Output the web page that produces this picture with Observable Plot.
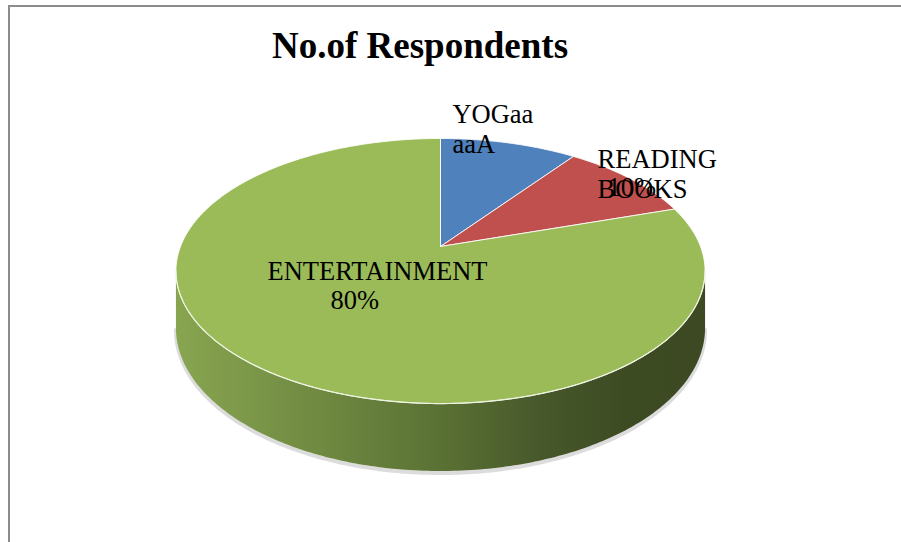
<!DOCTYPE html>
<html><head><meta charset="utf-8">
<script src="https://cdn.jsdelivr.net/npm/d3@7"></script>
<script src="https://cdn.jsdelivr.net/npm/@observablehq/plot@0.6"></script>
<style>
html,body{margin:0;padding:0;background:#fff;overflow:hidden;width:901px;height:542px}
#wrap{position:relative;width:901px;height:542px;overflow:hidden}
#frame{position:absolute;left:8px;top:5px;width:1000px;height:1000px;border:2px solid #8c8c8c;box-sizing:border-box}
#title{position:absolute;left:272px;top:27px;font-family:"Liberation Serif","Times New Roman",serif;font-weight:700;font-size:37px;line-height:37px;color:#000;white-space:nowrap;margin:0}
#chart{position:absolute;left:0;top:0}
</style></head><body>
<div id="wrap"><div id="frame"></div><div id="chart"></div><div id="title">No.of Respondents</div></div>
<script>
// ---- data ----
const categories = ["YOGaa\naaA", "READING\nBOOKS", "ENTERTAINMENT"];
const values = [10, 10, 80];
const valueLabels = ["", "10%", "80%"];
const colors = ["#4f81bd", "#c0504d", "#9bbb59"];

// ---- layout / style ----
const W = 901, H = 542;
const cx = 440, cy = 246, R = 260, RY = 128, P = 0.185, DEPTH = 55;
const catOffsets = [[-25, -88.5], [57.3, -63.8], [-90.4, -43.5]];
const valOffsets = [[0, 0], [67.3, -35.8], [-27.4, -14.5]];

function proj(t, dz = 0, r = 1) {
  const X = r * Math.sin(t), D = r * Math.cos(t), k = 1 / (1 + P * D);
  return [cx + R * X * k, cy - RY * D * k + DEPTH * k * dz];
}

const total = d3.sum(values);
let acc = 0;
const slices = values.map((v, i) => {
  const a0 = acc / total * 2 * Math.PI; acc += v;
  const a1 = acc / total * 2 * Math.PI;
  return {i, a0, a1, mid: (a0 + a1) / 2};
});

function arc(a0, a1, dz, n) {
  const pts = [];
  for (let j = 0; j <= n; j++) {
    const t = a0 + (a1 - a0) * j / n;
    const [x, y] = proj(t, dz);
    pts.push({x, y});
  }
  return pts;
}

// top face polygons
const slicePolys = slices.map(s => {
  return [{x: cx, y: cy}, ...arc(s.a0, s.a1, 0, Math.max(8, Math.round((s.a1 - s.a0) * 60))), {x: cx, y: cy}];
});

// side wall (front visible part), belongs to the large slice
const ts1 = Math.acos(-P), ts2 = 2 * Math.PI - ts1;
const wallTop = arc(ts1, ts2, 0, 200);
const wallBottom = arc(ts1, ts2, 1, 200);
const wallPoly = [...wallTop, ...wallBottom.slice().reverse(), wallTop[0]];

// labels
const catLabels = slices.map(s => {
  const [x, y] = proj(s.mid, 0, 0.5);
  return {x, y, text: categories[s.i], dx: catOffsets[s.i][0], dy: catOffsets[s.i][1]};
});
const valLabelData = slices.filter(s => valueLabels[s.i]).map(s => {
  const [x, y] = proj(s.mid, 0, 0.5);
  return {x, y, text: valueLabels[s.i], dx: valOffsets[s.i][0], dy: valOffsets[s.i][1]};
});

const textStyle = {fontFamily: "Liberation Serif, Times New Roman, serif", fontSize: 26.5, fill: "#000", textAnchor: "start", lineAnchor: "top", lineHeight: 1.13};

const chart = Plot.plot({
  width: W, height: H, margin: 0,
  x: {domain: [0, W], range: [0, W], axis: null},
  y: {domain: [0, H], range: [0, H], axis: null},
  style: {background: "transparent", overflow: "visible"},
  marks: [
    Plot.line(wallBottom, {x: "x", y: "y", stroke: "#9a9a9a", strokeWidth: 4, strokeOpacity: 0.35, dy: 2}),
    Plot.line(wallPoly, {x: "x", y: "y", fill: "url(#wallGrad)", stroke: "none"}),
    ...slicePolys.map((pts, i) => Plot.line(pts, {x: "x", y: "y", fill: colors[i], stroke: "#ffffff", strokeWidth: 1, strokeOpacity: 0.85, strokeLinejoin: "round"})),
    Plot.line(wallTop, {x: "x", y: "y", stroke: "#eef3e2", strokeWidth: 1.2}),
    Plot.text(catLabels, {x: "x", y: "y", text: "text", ...textStyle}),
    Plot.text(valLabelData, {x: "x", y: "y", text: "text", ...textStyle})
  ]
});

const svg = d3.select(chart);
const defs = svg.insert("defs", ":first-child");
const g = defs.append("linearGradient").attr("id", "wallGrad").attr("x1", 0).attr("x2", 1).attr("y1", 0).attr("y2", 0);
[[0, "#88a550"], [0.25, "#718c42"], [0.5, "#5a7134"], [0.7, "#46572a"], [0.85, "#3d4b23"], [1, "#3c4922"]]
  .forEach(([o, c]) => g.append("stop").attr("offset", o).attr("stop-color", c));

// per-label offsets
const textGroups = svg.selectAll("g[aria-label='text']").nodes();
[[textGroups[0], catLabels], [textGroups[1], valLabelData]].forEach(([grp, data]) => {
  if (!grp) return;
  d3.select(grp).selectAll("text").each(function(_, j) {
    const d = data[j];
    const t = d3.select(this);
    const tr = t.attr("transform") || "";
    t.attr("transform", `translate(${d.dx},${d.dy}) ${tr}`);
  });
});

document.getElementById("chart").appendChild(chart);
</script>
</body></html>
